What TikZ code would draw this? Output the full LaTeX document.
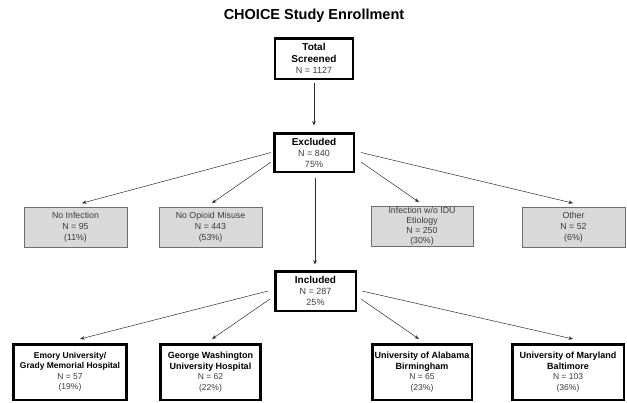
\documentclass[tikz,border=0pt]{standalone}
\usepackage{fontspec}
\setmainfont{Liberation Sans}
\usepackage{xcolor}
\usetikzlibrary{arrows.meta,calc}
\definecolor{figline}{RGB}{45,45,45}
\definecolor{figtext}{RGB}{60,60,60}
\definecolor{figgray}{RGB}{217,217,217}
\definecolor{figedge}{RGB}{110,110,110}
\newcommand{\hd}[1]{{\fontsize{10}{12}\selectfont\bfseries\color{black}#1}}
\newcommand{\sh}[1]{{\fontsize{9}{11.5}\selectfont\bfseries\color{black}#1}}
\tikzset{
  ttl/.style  ={font=\fontsize{14.5}{17}\selectfont\bfseries, inner sep=0pt},
  tbox/.style ={draw=black, line width=2.5pt, fill=white, align=center, inner sep=0pt,
                text=figtext, font=\fontsize{9}{11}\selectfont},
  sbox/.style ={tbox, minimum height=55.5pt, font=\fontsize{8.5}{10.5}\selectfont},
  gbox/.style ={draw=figedge, line width=0.7pt, fill=figgray, align=center, inner sep=0pt,
                minimum height=40pt, text=figtext, font=\fontsize{8.8}{10.8}\selectfont},
  conn/.style ={draw=figline, line width=0.5pt, -{Stealth[length=4.5pt,width=3.5pt]}},
}

\begin{document}
\begin{tikzpicture}[x=1pt,y=-1pt]
  \useasboundingbox (0,0) rectangle (627,402);
  \node[ttl] (title) at (314,16) {CHOICE Study Enrollment};
  % main column
  \node[tbox, minimum width=78pt, minimum height=40.5pt] (total) at (314,58.5)
    {\hd{Total}\\[0.5pt]\hd{Screened}\\N = 1127};
  \node[tbox, minimum width=79.5pt, minimum height=38.5pt] (excl) at (314,152.5)
    {\hd{Excluded}\\N = 840\\75\%};
  \node[tbox, minimum width=80.5pt, minimum height=39.5pt] (incl) at (315.5,291)
    {\hd{Included}\\N = 287\\25\%};
  % excluded reasons
  \node[gbox, minimum width=103pt] (noinf) at (75.5,227.5) {No Infection\\N = 95\\(11\%)};
  \node[gbox, minimum width=103pt] (noopi) at (210.5,227.5) {No Opioid Misuse\\N = 443\\(53\%)};
  \node[gbox, minimum width=102pt, font=\fontsize{8.8}{10}\selectfont] (infidu) at (422,226.5)
    {Infection w/o IDU\\Etiology\\N = 250\\(30\%)};
  \node[gbox, minimum width=103pt] (other) at (573.5,227.5) {Other\\N = 52\\(6\%)};
  % sites
  \node[sbox, minimum width=113pt] (emory) at (70,372)
    {{\fontsize{8.5}{11}\selectfont\bfseries\color{black}Emory University/}\\
     {\fontsize{8.5}{11}\selectfont\bfseries\color{black}Grady Memorial Hospital}\\N = 57\\(19\%)};
  \node[sbox, minimum width=100pt] (gwu) at (210.5,372)
    {\sh{George Washington}\\\sh{University Hospital}\\N = 62\\(22\%)};
  \node[sbox, minimum width=99.5pt] (uab) at (422,372)
    {\sh{University of Alabama}\\\sh{Birmingham}\\N = 65\\(23\%)};
  \node[sbox, minimum width=111.5pt] (umd) at (568,372)
    {\sh{University of Maryland}\\\sh{Baltimore}\\N = 103\\(36\%)};

  \draw[conn, shorten <=3pt, shorten >=6.5pt] (total.south) -- (total.south |- excl.north);
  \draw[conn, shorten <=5pt, shorten >=5.5pt] ([xshift=1pt]excl.south) -- ([xshift=1pt]excl.south |- incl.north);

  \draw[conn] ([xshift=-2pt]excl.west) -- ([xshift=6.5pt,yshift=4pt]noinf.north);
  \draw[conn] ([xshift=-2pt,yshift=-9.5pt]excl.west) -- ([xshift=1.5pt,yshift=4pt]noopi.north);
  \draw[conn] ([xshift=6pt,yshift=-9.5pt]excl.east) -- ([xshift=-3pt,yshift=4pt]infidu.north);
  \draw[conn] ([xshift=6pt]excl.east) -- ([xshift=-0.5pt,yshift=4pt]other.north);

  \draw[conn] ([xshift=-6pt]incl.west) -- ([xshift=10pt,yshift=4pt]emory.north);
  \draw[conn] ([xshift=-4pt,yshift=-8pt]incl.west) -- ([xshift=1.5pt,yshift=4pt]gwu.north);
  \draw[conn] ([xshift=4pt,yshift=-8pt]incl.east) -- ([xshift=-3pt,yshift=4pt]uab.north);
  \draw[conn] ([xshift=5pt]incl.east) -- ([xshift=5pt,yshift=4pt]umd.north);
\end{tikzpicture}
\end{document}
